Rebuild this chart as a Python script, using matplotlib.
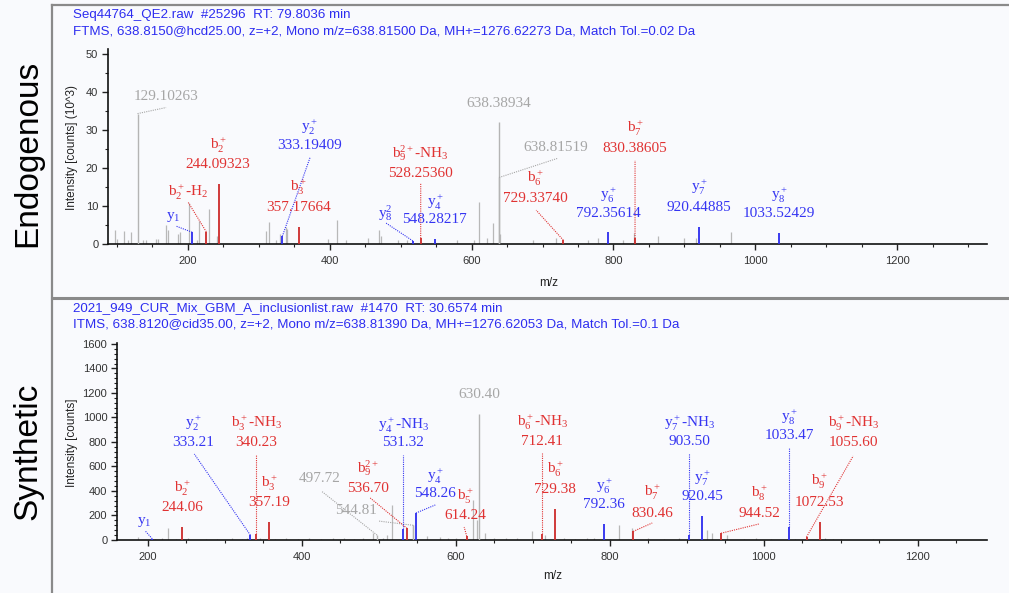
import matplotlib
matplotlib.use('Agg')
import matplotlib.pyplot as plt
from matplotlib.ticker import MultipleLocator
from matplotlib.lines import Line2D

plt.rcParams['font.family'] = ['Liberation Sans', 'DejaVu Sans']
plt.rcParams['mathtext.fontset'] = 'custom'
plt.rcParams['mathtext.rm'] = 'Liberation Serif'
plt.rcParams['mathtext.it'] = 'Liberation Serif:italic'
plt.rcParams['mathtext.bf'] = 'Liberation Serif:bold'

# ---------------- DATA ----------------
# Endogenous spectrum (intensity in 10^3 counts)
endo_header = ["Seq44764_QE2.raw  #25296  RT: 79.8036 min",
               "FTMS, 638.8150@hcd25.00, z=+2, Mono m/z=638.81500 Da, MH+=1276.62273 Da, Match Tol.=0.02 Da"]
endo_noise_mz = [97.5, 100.3, 110.2, 115.8, 120.0, 137.0, 141.2, 155.3, 158.1, 169.4, 172.2, 186.3,
                 189.1, 201.8, 213.1, 215.9, 230.0, 241.3, 310.4, 314.6, 324.5, 330.1, 338.6, 340.0,
                 397.8, 410.5, 423.1, 454.1, 469.6, 472.5, 496.4, 509.1, 579.6, 603.6, 610.6, 621.9,
                 630.4, 640.2, 686.8, 719.2, 764.3, 778.4, 813.7, 829.2, 863.0, 900.0, 916.0, 965.5]
endo_noise_int = [3.7, 1.3, 3.4, 1.0, 3.1, 1.1, 1.1, 1.2, 1.2, 5.0, 3.6, 2.5,
                  3.2, 10.7, 1.0, 6.0, 9.1, 2.0, 3.3, 5.9, 1.0, 2.5, 4.4, 4.0,
                  1.2, 6.2, 1.0, 1.5, 3.7, 2.0, 1.0, 1.0, 1.0, 1.0, 11.0, 1.5,
                  5.5, 2.5, 1.0, 1.5, 1.0, 1.5, 1.0, 3.0, 2.0, 1.5, 1.7, 3.1]
endo_ion_mz = [129.10263, 206.1, 226.08, 244.09323, 333.19409, 357.17664, 517.27, 528.25360,
               548.28217, 638.38934, 638.81519, 729.33740, 792.35614, 830.38605, 920.44885, 1033.52429]
endo_ion_int = [34.3, 3.1, 3.2, 15.7, 2.0, 4.5, 0.8, 1.5, 1.3, 32.2, 17.5, 1.0, 3.1, 1.5, 4.5, 2.9]
endo_ion_type = ['other', 'y', 'b', 'b', 'y', 'b', 'y', 'b', 'y', 'other', 'other', 'b', 'y', 'b', 'y', 'y']
endo_ion_name = ['', 'y$_1$', 'b$_2^+$-H$_2$', 'b$_2^+$', 'y$_2^+$', 'b$_3^+$', 'y$_8^2$',
                 'b$_9^{2+}$-NH$_3$', 'y$_4^+$', '', '', 'b$_6^+$', 'y$_6^+$', 'b$_7^+$', 'y$_7^+$', 'y$_8^+$']
endo_ion_value = ['129.10263', '', '', '244.09323', '333.19409', '357.17664', '', '528.25360',
                  '548.28217', '638.38934', '638.81519', '729.33740', '792.35614', '830.38605',
                  '920.44885', '1033.52429']

# Synthetic spectrum (intensity in counts)
syn_header = ["2021_949_CUR_Mix_GBM_A_inclusionlist.raw  #1470  RT: 30.6574 min",
              "ITMS, 638.8120@cid35.00, z=+2, Mono m/z=638.81390 Da, MH+=1276.62053 Da, Match Tol.=0.1 Da"]
syn_noise_mz = [187.7, 210, 218, 226.6, 236, 252, 275, 290, 310, 322, 329.2, 346.1, 365, 380, 395,
                410, 425, 440, 455, 468, 480, 492.9, 505, 511.2, 517.7, 544.8, 563.0, 579.9, 590, 600,
                622.7, 627.9, 638.3, 650, 665, 680, 699.4, 716.2, 740, 755, 770, 780, 800, 812.3, 829,
                850, 870, 890, 926.6, 933.1, 952.6, 975, 990, 1010, 1040, 1080, 1090.3, 1100, 1142.2]
syn_noise_int = [25, 12, 15, 100, 10, 15, 12, 10, 15, 12, 20, 20, 12, 15, 12,
                 15, 12, 18, 15, 12, 20, 60, 15, 40, 285, 120, 30, 25, 15, 20,
                 330, 160, 60, 20, 15, 20, 70, 40, 15, 12, 15, 20, 12, 120, 100,
                 15, 12, 15, 80, 60, 40, 12, 15, 10, 12, 15, 10, 12, 8]
syn_ion_mz = [205.8, 244.06, 333.21, 340.23, 357.19, 497.72, 544.81, 536.70, 531.32, 548.26, 630.40,
              614.24, 712.41, 729.38, 792.36, 830.46, 903.50, 920.45, 944.52, 1033.47, 1055.60, 1072.53]
syn_ion_int = [10, 106, 40, 50, 150, 40, 120, 95, 90, 220, 1030, 30, 50, 250, 130, 70, 40, 195, 55,
               110, 25, 150]
syn_ion_type = ['y', 'b', 'y', 'b', 'b', 'other', 'other', 'b', 'y', 'y', 'other', 'b', 'b', 'b', 'y',
                'b', 'y', 'y', 'b', 'y', 'b', 'b']
syn_ion_name = ['y$_1$', 'b$_2^+$', 'y$_2^+$', 'b$_3^+$-NH$_3$', 'b$_3^+$', '', '', 'b$_9^{2+}$',
                'y$_4^+$-NH$_3$', 'y$_4^+$', '', 'b$_5^+$', 'b$_6^+$-NH$_3$', 'b$_6^+$', 'y$_6^+$',
                'b$_7^+$', 'y$_7^+$-NH$_3$', 'y$_7^+$', 'b$_8^+$', 'y$_8^+$', 'b$_9^+$-NH$_3$', 'b$_9^+$']
syn_ion_value = ['', '244.06', '333.21', '340.23', '357.19', '497.72', '544.81', '536.70', '531.32',
                 '548.26', '630.40', '614.24', '712.41', '729.38', '792.36', '830.46', '903.50',
                 '920.45', '944.52', '1033.47', '1055.60', '1072.53']

# ---------------- LAYOUT (label placement in data units) ----------------
# (label x, name y, value y, leader end x, leader end y)  None = not used
endo_layout = [
    (169.4, None, 38.7, 169.4, 35.9),
    (179.3, 7.1, None, 183.5, 4.7),
    (200.4, 13.6, None, 200.4, 11.0),
    (242.7, 25.9, 20.9, None, None),
    (371.0, 30.6, 25.9, 372.4, 22.8),
    (355.5, 14.9, 9.7, None, None),
    (478.0, 8.1, None, 479.5, 5.5),
    (528.3, 23.8, 18.6, 528.3, 16.0),
    (548.3, 11.0, 6.5, None, None),
    (638.4, None, 36.9, None, None),
    (719.1, None, 25.4, 720.6, 22.5),
    (689.6, 17.3, 12.0, 691.0, 8.9),
    (792.4, 12.8, 8.1, None, None),
    (830.4, 30.4, 25.1, 830.4, 22.0),
    (920.4, 14.9, 9.7, None, None),
    (1033.5, 12.8, 8.1, None, None),
]
syn_layout = [
    (195.5, 147, None, 196.8, 73),
    (244.8, 424, 269, None, None),
    (259.1, 955, 792, 260.4, 702),
    (340.9, 955, 792, 340.23, 702),
    (357.8, 465, 310, None, None),
    (422.7, None, 498, 425.3, 400),
    (470.8, None, 237, 499.4, 155),
    (486.4, 588, 424, 488.9, 343),
    (531.8, 939, 792, 531.32, 694),
    (573.4, 522, 376, 573.4, 286),
    (630.4, None, 1184, None, None),
    (612.3, 359, 196, 610.9, 106),
    (712.4, 963, 808, 712.41, 710),
    (729.4, 580, 416, None, None),
    (792.4, 441, 286, None, None),
    (855.2, 392, 220, 855.2, 139),
    (903.5, 955, 800, 903.5, 710),
    (920.4, 506, 351, None, None),
    (993.9, 384, 220, 993.9, 131),
    (1033.5, 1004, 849, 1033.47, 751),
    (1116.2, 955, 792, 1116.2, 686),
    (1072.5, 482, 310, None, None),
]

W, H = 1009, 593
BG = '#f9fafd'
PEAK_COL = {'b': '#cc2a2a', 'y': '#2b2bee', 'other': '#b4b4b4'}
TEXT_COL = {'b': '#e03232', 'y': '#3535f2', 'other': '#a6a6a6'}
HEAD_COL = '#2d2df0'
NOISE_COL = '#b8b8b8'

fig = plt.figure(figsize=(W / 100, H / 100), dpi=100, facecolor=BG)


def rect(l, t, r, b):
    return [l / W, 1 - b / H, (r - l) / W, (b - t) / H]


def draw_panel(ax, noise_mz, noise_int, ion_mz, ion_int, ion_type, ion_name, ion_value, layout,
               xlim, ylim, ymaj, ymin):
    ax.set_facecolor('none')
    ax.vlines(noise_mz, 0, noise_int, color=NOISE_COL, lw=0.9, zorder=2)
    for mz, it, tp in zip(ion_mz, ion_int, ion_type):
        ax.vlines(mz, 0, it, color=PEAK_COL[tp], lw=1.3 if tp != 'other' else 1.0, zorder=3)
    for mz, it, tp, nm, val, lay in zip(ion_mz, ion_int, ion_type, ion_name, ion_value, layout):
        lx, ny, vy, ex, ey = lay
        c = TEXT_COL[tp]
        if nm:
            ax.text(lx, ny, nm, color=c, ha='center', va='center', fontsize=11,
                    family='Liberation Serif', zorder=4)
        if val:
            ax.text(lx, vy, val, color=c, ha='center', va='center', fontsize=11,
                    family='Liberation Serif', zorder=4)
        if ex is not None:
            ax.plot([mz, ex], [it, ey], color=c, lw=0.8, ls=(0, (1, 1)), zorder=3)
    ax.set_xlim(*xlim)
    ax.set_ylim(*ylim)
    for s in ['top', 'right']:
        ax.spines[s].set_visible(False)
    for s in ['left', 'bottom']:
        ax.spines[s].set_linewidth(1.2)
        ax.spines[s].set_color('#111111')
    ax.xaxis.set_major_locator(MultipleLocator(200))
    ax.xaxis.set_minor_locator(MultipleLocator(50))
    ax.yaxis.set_major_locator(MultipleLocator(ymaj))
    ax.yaxis.set_minor_locator(MultipleLocator(ymin))
    ax.tick_params(which='major', length=4, width=1, color='#222222', labelsize=8,
                   labelcolor='#333333', direction='out')
    ax.tick_params(which='minor', length=2, width=0.8, color='#222222', direction='out')
    ax.tick_params(axis='x', which='major', pad=5)
    ax.tick_params(axis='y', which='major', pad=3)


ax1 = fig.add_axes(rect(108, 49, 987, 244))
draw_panel(ax1, endo_noise_mz, endo_noise_int, endo_ion_mz, endo_ion_int, endo_ion_type,
           endo_ion_name, endo_ion_value, endo_layout, (87.5, 1326.5), (0, 51.3), 10, 5)

ax2 = fig.add_axes(rect(117, 343, 987, 540))
draw_panel(ax2, syn_noise_mz, syn_noise_int, syn_ion_mz, syn_ion_int, syn_ion_type,
           syn_ion_name, syn_ion_value, syn_layout, (160, 1290), (0, 1608), 200, 40)


def ftext(px, py, s, **kw):
    fig.text(px / W, 1 - py / H, s, **kw)


# headers
for py, s in zip([15, 31], endo_header):
    ftext(73, py, s, color=HEAD_COL, fontsize=9.6, va='center', ha='left')
for py, s in zip([308, 324], syn_header):
    ftext(73, py, s, color=HEAD_COL, fontsize=9.6, va='center', ha='left')

# axis labels
ftext(72, 147, 'Intensity [counts] (10^3)', rotation=90, fontsize=8.5, va='center', ha='center',
      color='#222222')
ftext(72, 443, 'Intensity [counts]', rotation=90, fontsize=8.5, va='center', ha='center',
      color='#222222')
ftext(549, 283, 'm/z', fontsize=8.5, va='center', ha='center', color='#222222')
ftext(553, 576, 'm/z', fontsize=8.5, va='center', ha='center', color='#222222')

# row labels
ftext(28, 153, 'Endogenous', rotation=90, fontsize=24, va='center', ha='center', color='black')
ftext(28, 451, 'Synthetic', rotation=90, fontsize=24, va='center', ha='center', color='black')

# frame lines
BORDER = '#8a8a8a'
fig.add_artist(Line2D([52 / W, 52 / W], [1 - 5 / H, 0], color=BORDER, lw=1.6))
fig.add_artist(Line2D([52 / W, 1], [1 - 5 / H, 1 - 5 / H], color=BORDER, lw=1.6))
fig.add_artist(Line2D([52 / W, 1], [1 - 298 / H, 1 - 298 / H], color=BORDER, lw=2.2))

fig.savefig('out.png', dpi=100, facecolor=BG)
